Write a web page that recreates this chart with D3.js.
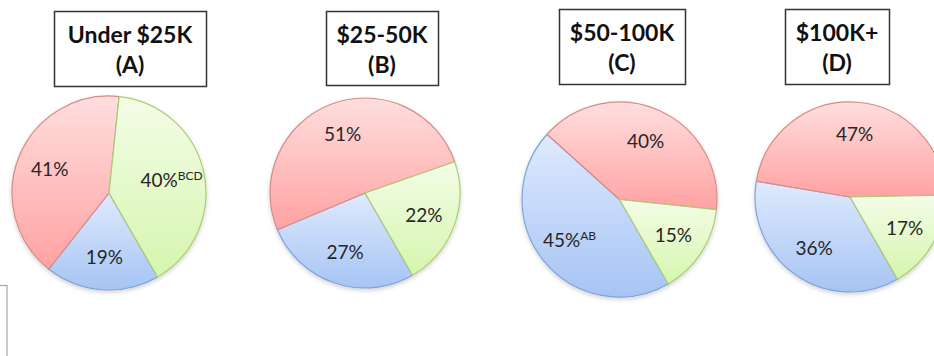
<!DOCTYPE html>
<html><head><meta charset="utf-8">
<script src="https://cdn.jsdelivr.net/npm/d3@7"></script>
<style>body{margin:0;background:#fff}svg{display:block}</style>
</head><body>
<svg id="c" width="934" height="356"></svg>
<script>
// ---- data ----
const groups = ["Under $25K", "$25-50K", "$50-100K", "$100K+"];
const groupLetters = ["A", "B", "C", "D"];
const seriesNames = ["Blue", "Red", "Green"];
const blueValues  = [19, 27, 45, 36];
const redValues   = [41, 51, 40, 47];
const greenValues = [40, 22, 15, 17];
const blueSig  = ["", "", "AB", ""];
const redSig   = ["", "", "", ""];
const greenSig = ["BCD", "", "", ""];

// ---- layout ----
const svg = d3.select("#c");
const centers = [[109,193],[365,193],[619.5,199.5],[850,197]];
const radii = [97, 95, 97.5, 95];
const boxes = [[54,11,152,75],[326,11,112,74],[559,9,126,75],[785,9,104,75]];
const fills = {
  Blue:  ["#dfeafd", "#a6c4f4"],
  Red:   ["#ffdede", "#ffa2a2"],
  Green: ["#f3fde7", "#d6f5ae"]
};
const strokes = { Blue: "#7da3d9", Red: "#d88a86", Green: "#a9cd72" };

const defs = svg.append("defs");
Object.entries(fills).forEach(([k, c]) => {
  const g = defs.append("linearGradient").attr("id", "g" + k)
    .attr("x1", 0).attr("y1", 0).attr("x2", 0).attr("y2", 1);
  g.append("stop").attr("offset", "0%").attr("stop-color", c[0]);
  g.append("stop").attr("offset", "100%").attr("stop-color", c[1]);
});
const f = defs.append("filter").attr("id", "sh").attr("x", "-20%").attr("y", "-20%").attr("width", "140%").attr("height", "140%");
f.append("feDropShadow").attr("dx", 0).attr("dy", 2).attr("stdDeviation", 2).attr("flood-color", "#000").attr("flood-opacity", 0.18);

// partial box at bottom-left
svg.append("rect").attr("x", -40).attr("y", 285.5).attr("width", 47).attr("height", 120)
  .attr("fill", "none").attr("stroke", "#a6a6a6").attr("stroke-width", 1.2);

const pie = d3.pie().sort(null).value(d => d.v)
  .startAngle(150 * Math.PI / 180).endAngle(510 * Math.PI / 180);

groups.forEach((name, i) => {
  // title box
  const [bx, by, bw, bh] = boxes[i];
  svg.append("rect").attr("x", bx + 0.5).attr("y", by + 0.5).attr("width", bw).attr("height", bh)
    .attr("fill", "#fff").attr("stroke", "#333").attr("stroke-width", 1.5);
  const t = svg.append("text").attr("text-anchor", "middle")
    .attr("font-family", "Lato, 'Open Sans', sans-serif").attr("font-weight", "bold")
    .attr("font-size", 23).attr("fill", "#111");
  t.append("tspan").attr("x", bx + bw / 2).attr("y", by + 32).text(name);
  t.append("tspan").attr("x", bx + bw / 2).attr("y", by + 62).text("(" + groupLetters[i] + ")");

  const data = [
    { k: "Blue",  v: blueValues[i],  s: blueSig[i] },
    { k: "Red",   v: redValues[i],   s: redSig[i] },
    { k: "Green", v: greenValues[i], s: greenSig[i] }
  ];
  const r = radii[i];
  const arc = d3.arc().innerRadius(0).outerRadius(r);
  const lab = d3.arc().innerRadius(r * 0.66).outerRadius(r * 0.66);
  const g = svg.append("g").attr("transform", `translate(${centers[i][0]},${centers[i][1]})`);
  const arcs = pie(data);
  const pg = g.append("g").attr("filter", "url(#sh)");
  pg.selectAll("path").data(arcs).join("path")
    .attr("d", arc)
    .attr("fill", d => `url(#g${d.data.k})`)
    .attr("stroke", d => strokes[d.data.k])
    .attr("stroke-width", 1.2)
    .attr("stroke-linejoin", "round");
  arcs.forEach(d => {
    const [x, y] = lab.centroid(d);
    const tx = g.append("text").attr("x", x).attr("y", y + 7)
      .attr("text-anchor", "middle")
      .attr("font-family", "Lato, 'Open Sans', sans-serif")
      .attr("font-size", 19).attr("fill", "#262626");
    tx.append("tspan").text(d.data.v + "%");
    if (d.data.s) {
      tx.append("tspan").attr("font-size", 12).attr("dy", -7).text(d.data.s);
    }
  });
});
</script>
</body></html>
